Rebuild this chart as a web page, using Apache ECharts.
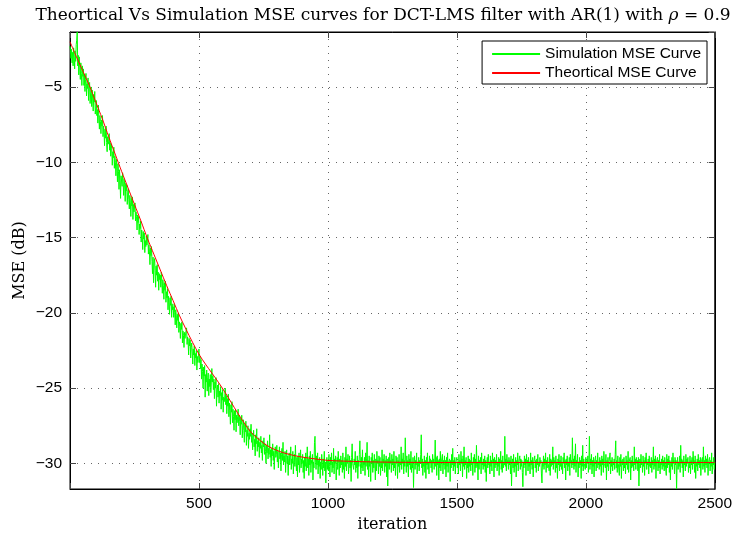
<!DOCTYPE html>
<html><head><meta charset="utf-8">
<script src="https://cdn.jsdelivr.net/npm/echarts@6/dist/echarts.min.js"></script>
<style>html,body{margin:0;padding:0;background:#fff}#c{width:735px;height:538px}</style>
</head><body><div id="c"></div>
<script>
// ---- data ----
const simStep = 2; // simulation samples every 2 iterations, starting at 0
const simMSE = [
-2.3,-2.6,-3.1,-2.5,-3.4,-2.7,-3.6,-2.4,-3.0,-3.8,-2.6,-3.3,-2.2,-1.9,-1.35,-3.6,-2.9,-4.2,-3.0,-3.7,-4.5,-3.4,-4.1,-4.9,-3.6,
-4.3,-3.8,-4.9,-4.2,-5.3,-4.5,-4.1,-5.6,-4.8,-5.1,-4.4,-5.9,-5.0,-4.7,-6.1,-5.4,-5.0,-6.3,-5.2,-5.8,-6.6,-5.5,-6.0,-5.3,-6.8,
-6.4,-5.9,-6.9,-6.5,-7.4,-6.2,-7.0,-7.8,-6.9,-7.3,-8.1,-7.2,-7.6,-6.9,-8.3,-7.6,-8.0,-8.9,-7.8,-8.4,-7.6,-8.7,-9.3,-8.3,-8.8,
-8.6,-8.1,-9.2,-8.7,-9.6,-8.8,-9.1,-10.2,-9.3,-9.7,-9.0,-10.4,-9.6,-10.0,-10.9,-9.8,-10.3,-11.3,-10.1,-10.6,-11.8,-10.5,-11.2,-12.4,-10.9,
-11.0,-11.6,-10.7,-11.3,-12.2,-11.1,-11.5,-12.6,-11.4,-11.9,-11.5,-12.8,-12.0,-11.8,-12.5,-13.1,-12.2,-12.7,-13.6,-12.4,-12.9,-12.3,-13.8,-12.8,-13.3,
-13.2,-12.7,-13.9,-13.3,-13.6,-14.5,-13.5,-14.0,-13.6,-14.8,-14.1,-14.4,-13.9,-15.3,-14.5,-14.9,-15.8,-14.6,-15.1,-14.7,-16.0,-15.2,-15.6,-14.9,-15.5,
-15.4,-14.8,-16.1,-15.5,-15.9,-16.8,-15.7,-16.2,-15.6,-16.6,-17.4,-16.3,-18.0,-16.7,-16.4,-17.2,-18.3,-16.9,-17.5,-16.8,-17.9,-17.3,-18.5,-17.4,-17.8,
-17.5,-18.3,-17.3,-17.9,-18.7,-17.8,-18.2,-19.1,-18.0,-18.5,-17.9,-19.3,-18.6,-19.0,-18.4,-19.8,-18.9,-19.3,-20.1,-19.0,-19.5,-18.9,-20.3,-19.4,-19.8,
-19.6,-20.3,-19.4,-20.0,-20.8,-19.8,-20.2,-21.0,-20.1,-20.5,-20.0,-21.3,-20.6,-20.9,-21.7,-20.7,-21.1,-20.6,-22.0,-21.2,-21.5,-22.3,-21.3,-21.7,-21.4,
-21.5,-21.0,-22.1,-21.6,-21.9,-22.8,-21.7,-22.2,-21.8,-23.0,-22.3,-22.0,-22.6,-23.4,-22.4,-22.8,-22.2,-23.5,-22.7,-23.0,-22.5,-23.8,-22.9,-23.3,-22.8,
-22.4,-23.3,-22.9,-23.7,-23.1,-24.4,-23.4,-23.9,-25.0,-23.6,-24.2,-23.5,-25.6,-24.1,-24.6,-23.8,-25.2,-24.3,-24.0,-25.5,-24.4,-24.9,-24.1,-25.3,-24.6,
-23.7,-24.6,-24.2,-25.1,-24.4,-25.7,-24.6,-25.0,-24.3,-26.2,-25.1,-24.8,-25.6,-24.7,-26.0,-25.2,-25.5,-24.9,-26.4,-25.3,-25.8,-25.1,-26.6,-25.6,-25.9,
-25.6,-25.0,-26.1,-25.5,-26.7,-25.7,-26.2,-25.4,-26.9,-26.0,-26.5,-27.4,-26.1,-26.6,-25.9,-27.3,-26.4,-26.9,-27.8,-26.5,-27.1,-26.4,-27.9,-26.8,-27.3,
-26.9,-26.4,-27.5,-26.8,-27.2,-28.1,-27.0,-27.4,-26.8,-28.3,-27.5,-27.1,-27.8,-28.6,-27.4,-27.9,-27.2,-28.8,-27.8,-28.2,-27.5,-29.0,-28.0,-28.4,-27.7,
-28.2,-27.4,-28.6,-28.0,-29.1,-28.3,-27.8,-28.9,-28.4,-29.5,-28.1,-28.7,-27.7,-29.2,-28.5,-28.9,-28.3,-29.6,-28.6,-29.0,-28.2,-29.3,-28.8,-29.8,-28.5,
-28.9,-28.3,-29.4,-28.7,-29.2,-30.0,-28.8,-29.3,-28.5,-29.7,-29.0,-29.4,-28.1,-29.6,-29.1,-30.2,-29.0,-29.5,-28.7,-29.8,-29.2,-30.4,-29.3,-28.9,-29.6,
-29.4,-28.8,-29.9,-29.2,-30.3,-29.5,-28.9,-29.7,-29.3,-30.5,-29.4,-29.0,-29.8,-28.6,-30.1,-29.5,-29.9,-29.2,-30.6,-29.6,-29.1,-30.0,-29.5,-30.8,-29.7,
-29.3,-30.1,-29.6,-28.9,-30.4,-29.7,-30.0,-29.2,-30.7,-29.8,-29.4,-30.2,-28.8,-29.9,-30.5,-29.6,-30.9,-29.5,-30.1,-29.3,-30.6,-29.8,-29.1,-30.3,-29.7,
-30.0,-29.4,-30.6,-29.8,-31.0,-29.6,-30.2,-29.3,-30.5,-29.9,-28.9,-30.3,-29.7,-30.8,-29.5,-30.1,-29.2,-30.6,-29.8,-30.0,-29.4,-31.1,-29.9,-30.3,-28.6,
-28.2,-29.7,-30.4,-29.5,-30.1,-29.3,-30.7,-29.8,-30.2,-29.6,-31.0,-29.9,-30.4,-29.4,-30.0,-30.8,-29.7,-30.3,-29.2,-30.5,-29.9,-31.3,-30.1,-29.6,-30.4,
-29.8,-30.5,-29.4,-30.2,-30.9,-29.6,-30.1,-29.3,-30.6,-29.9,-30.3,-29.0,-30.7,-29.7,-30.0,-29.5,-31.1,-30.2,-29.6,-30.4,-29.2,-30.0,-30.8,-29.7,-30.3,
-29.5,-30.1,-29.8,-30.6,-29.3,-30.4,-29.9,-31.0,-29.6,-30.2,-28.9,-30.5,-29.7,-30.0,-29.4,-30.7,-30.1,-29.5,-30.3,-29.8,-31.2,-29.6,-28.7,-30.0,-29.9,
-30.4,-29.7,-30.1,-29.2,-30.6,-29.9,-30.3,-29.5,-31.0,-29.8,-30.2,-29.4,-28.5,-30.0,-30.7,-29.6,-30.3,-29.1,-30.5,-29.9,-30.1,-29.6,-30.8,-29.3,-30.2,
-29.7,-28.6,-30.4,-29.8,-30.9,-29.5,-30.2,-29.9,-31.2,-29.6,-30.0,-29.3,-30.6,-29.8,-30.3,-29.4,-30.1,-31.1,-29.7,-30.5,-29.2,-30.0,-29.8,-30.7,-29.5,
-30.2,-29.6,-30.8,-29.9,-30.3,-29.1,-30.5,-29.7,-30.0,-29.4,-30.6,-29.8,-30.2,-29.5,-30.9,-29.7,-31.5,-30.1,-29.6,-30.4,-29.3,-30.0,-29.8,-30.6,-29.4,
-30.1,-29.7,-30.5,-29.2,-30.3,-29.9,-30.8,-29.5,-30.0,-29.6,-31.0,-29.8,-30.2,-29.4,-30.6,-29.9,-30.1,-28.9,-30.4,-29.7,-30.0,-29.3,-30.7,-29.8,-30.2,
-28.3,-29.9,-30.6,-29.5,-30.2,-29.8,-30.9,-29.4,-30.1,-29.7,-30.4,-29.2,-30.6,-29.9,-30.3,-29.6,-31.6,-30.0,-29.5,-30.4,-29.8,-30.1,-29.3,-30.7,-29.9,
-30.2,-29.6,-30.5,-29.8,-30.0,-29.4,-28.1,-30.3,-29.7,-30.8,-29.9,-30.2,-29.5,-30.6,-29.8,-31.0,-29.6,-30.1,-29.3,-30.4,-29.9,-30.7,-29.5,-30.0,-29.7,
-30.3,-29.8,-30.6,-29.4,-30.0,-29.7,-30.4,-29.9,-28.45,-30.2,-29.6,-30.8,-29.5,-30.1,-29.8,-31.1,-29.7,-30.3,-29.2,-30.5,-29.9,-30.0,-29.4,-30.7,-29.8,
-30.1,-29.5,-30.4,-29.8,-30.9,-29.6,-30.2,-29.3,-30.6,-29.9,-30.0,-29.7,-31.2,-29.8,-30.3,-29.4,-30.1,-29.0,-30.5,-29.8,-30.2,-29.6,-30.7,-29.9,-30.0,
-29.6,-30.3,-29.9,-30.7,-29.4,-30.1,-29.8,-30.5,-29.2,-30.0,-29.7,-30.9,-29.5,-30.2,-28.9,-30.4,-29.8,-30.1,-29.6,-31.0,-29.9,-30.3,-29.5,-30.6,-29.7,
-30.2,-29.8,-30.5,-29.3,-30.1,-29.9,-30.8,-29.6,-30.0,-29.4,-30.6,-29.7,-30.3,-28.8,-30.2,-29.9,-31.1,-29.5,-30.4,-29.8,-30.0,-29.6,-30.7,-29.3,-30.1,
-29.9,-30.4,-29.7,-30.2,-29.5,-30.6,-29.8,-31.2,-30.0,-29.6,-30.3,-29.4,-30.1,-29.9,-30.7,-29.5,-30.2,-29.8,-30.5,-29.3,-30.0,-29.7,-30.9,-29.6,-30.3,
-29.8,-30.1,-29.4,-30.5,-29.9,-30.2,-29.6,-30.8,-29.7,-30.0,-29.2,-30.4,-29.8,-30.6,-29.5,-30.3,-29.9,-30.1,-28.2,-30.2,-29.7,-30.5,-29.4,-30.0,-29.8,
-30.4,-29.6,-30.1,-29.8,-30.7,-29.5,-31.5,-30.0,-29.7,-30.3,-29.4,-30.6,-29.9,-30.2,-29.6,-30.9,-29.8,-30.1,-29.3,-30.5,-29.9,-30.0,-29.5,-30.4,-29.7,
-30.2,-29.8,-30.6,-31.55,-29.9,-30.3,-29.5,-30.1,-29.7,-30.8,-29.4,-30.0,-29.8,-30.5,-29.6,-30.2,-29.9,-30.7,-29.3,-30.1,-29.8,-30.4,-29.6,-30.9,-29.9,
-30.0,-29.5,-30.3,-29.8,-30.6,-29.7,-30.1,-29.4,-30.5,-29.9,-30.2,-29.6,-30.0,-29.8,-30.7,-31.3,-29.9,-30.2,-29.5,-30.4,-29.7,-30.1,-29.3,-30.6,-29.8,
-30.3,-29.6,-30.0,-29.9,-30.5,-29.4,-30.8,-29.7,-30.2,-29.8,-30.1,-28.9,-30.4,-29.6,-30.0,-29.8,-30.6,-29.5,-30.3,-29.9,-31.0,-29.7,-30.1,-29.4,-30.5,
-29.8,-30.2,-29.5,-30.4,-29.9,-30.7,-29.6,-30.0,-29.3,-30.3,-29.8,-31.1,-29.7,-30.1,-29.5,-30.5,-29.9,-30.2,-29.6,-30.8,-29.4,-30.0,-29.8,-30.3,-28.3,
-30.1,-29.7,-30.4,-29.5,-30.2,-28.7,-30.6,-29.8,-30.0,-29.4,-30.9,-29.9,-30.3,-29.6,-30.1,-29.8,-31.0,-29.5,-30.2,-28.8,-30.5,-29.7,-30.0,-29.9,-30.4,
-29.6,-30.3,-29.8,-30.0,-29.5,-30.6,-29.9,-28.2,-30.4,-29.7,-30.1,-29.4,-30.7,-29.8,-30.2,-29.6,-30.9,-29.9,-30.0,-29.5,-30.5,-29.8,-30.3,-29.3,-30.1,
-29.9,-30.4,-29.6,-30.2,-29.8,-30.8,-29.5,-30.1,-29.7,-30.6,-29.2,-30.0,-29.9,-30.3,-29.4,-31.1,-29.8,-30.2,-29.6,-30.5,-29.9,-30.0,-29.3,-30.7,-29.8,
-30.2,-29.6,-30.5,-29.9,-30.1,-29.7,-30.4,-29.4,-28.5,-30.3,-29.8,-30.6,-29.5,-30.0,-29.9,-30.8,-29.6,-30.2,-29.4,-31.0,-29.8,-30.1,-29.7,-30.5,-29.6,
-30.3,-29.9,-30.7,-29.5,-30.1,-29.8,-30.4,-29.2,-30.6,-29.9,-30.0,-29.6,-31.1,-29.8,-30.3,-29.5,-30.2,-29.9,-30.5,-28.9,-30.1,-29.7,-30.4,-29.6,-30.0,
-29.8,-30.5,-29.6,-31.5,-30.0,-29.7,-30.3,-29.4,-30.1,-29.9,-30.6,-29.5,-30.2,-29.8,-30.8,-29.6,-30.0,-29.3,-30.4,-29.9,-30.1,-29.7,-30.7,-29.5,-30.2,
-29.9,-30.3,-29.6,-30.6,-29.8,-30.1,-28.9,-30.4,-29.7,-30.2,-29.5,-31.0,-29.9,-30.0,-29.6,-30.5,-29.8,-30.3,-29.4,-30.7,-29.9,-30.1,-29.7,-30.4,-29.5,
-30.2,-29.8,-30.5,-29.6,-30.0,-29.9,-30.8,-29.4,-30.3,-29.7,-30.1,-29.5,-30.6,-29.8,-31.1,-29.9,-30.2,-29.6,-30.4,-29.3,-30.0,-29.8,-30.7,-29.6,-30.1,
-29.8,-31.7,-30.1,-29.6,-30.4,-29.9,-30.2,-29.5,-30.6,-28.8,-30.0,-29.7,-30.3,-29.8,-30.9,-29.5,-30.1,-29.9,-30.5,-29.4,-30.2,-29.7,-30.0,-29.6,-30.6,
-29.9,-30.3,-29.5,-30.7,-29.8,-30.1,-29.6,-30.4,-29.2,-30.0,-29.8,-30.6,-29.5,-31.0,-29.9,-30.2,-29.7,-30.5,-29.4,-30.1,-29.8,-30.3,-29.6,-30.8,-29.9,
-30.0,-29.6,-30.4,-28.9,-30.2,-29.8,-30.6,-29.5,-30.1,-29.7,-30.3,-29.4,-30.8,-29.9,-30.0,-29.6,-30.5,-29.8,-30.2,-29.3,-30.7,-29.9,-30.1,-29.6,-30.4,
-29.9
];
const theoryIter = [0,25,50,75,100,125,150,175,200,225,250,275,300,325,350,375,400,425,450,475,500,525,550,575,600,625,650,675,700,725,750,775,800,825,850,875,900,950,1000,1100,1200,1300,1500,2000,2500];
const theoryMSE = [-2.0,-3.0,-3.95,-4.9,-6.0,-7.1,-8.3,-9.45,-10.6,-11.7,-12.8,-13.9,-15.05,-16.1,-17.15,-18.2,-19.2,-20.2,-21.1,-21.95,-22.75,-23.4,-24.0,-24.6,-25.25,-25.95,-26.65,-27.3,-27.9,-28.3,-28.65,-28.92,-29.12,-29.28,-29.4,-29.5,-29.58,-29.7,-29.8,-29.87,-29.91,-29.93,-29.94,-29.94,-29.94];
const xTickValues = [500,1000,1500,2000,2500];
const yTickValues = [-30,-25,-20,-15,-10,-5];
const seriesNames = ['Simulation MSE Curve','Theortical MSE Curve'];

const simData = simMSE.map((v,i)=>[i*simStep, v]);
const theoryData = theoryIter.map((x,i)=>[x, theoryMSE[i]]);

const fmtNum = v => (v < 0 ? '\u2212' + Math.abs(v) : String(v));
const sans = 'Liberation Sans';
const serif = 'DejaVu Serif';

const chart = echarts.init(document.getElementById('c'), null, {renderer:'canvas'});
const tickStyle = {inside:true, length:6, lineStyle:{color:'#444', width:1}};
const gridLine = {show:true, lineStyle:{color:'#666', width:1, type:[1,6]}};
chart.setOption({
  animation:false,
  backgroundColor:'#fff',
  title:{
    text:'Theortical Vs Simulation MSE curves for DCT-LMS filter with AR(1) with {i|ρ} = 0.9',
    left:378, top:2, textAlign:'center',
    textStyle:{fontFamily:serif, fontSize:17, fontWeight:'normal', color:'#000',
      rich:{i:{fontFamily:serif, fontSize:17, fontStyle:'italic', color:'#000'}}}
  },
  grid:{left:70, right:20, top:32, bottom:49, show:true, borderColor:'#000', borderWidth:1, backgroundColor:'transparent'},
  legend:{
    data:seriesNames, orient:'vertical', right:28, top:41,
    itemWidth:48, itemHeight:14, itemGap:3, padding:[5,6,3,9],
    itemStyle:{opacity:0},
    backgroundColor:'#fff', borderColor:'#000', borderWidth:1, borderRadius:0,
    textStyle:{fontFamily:sans, fontSize:15.5, color:'#000'}
  },
  xAxis:[{
    type:'value', min:0, max:2500, splitNumber:5,
    name:'iteration', nameLocation:'middle', nameGap:27,
    nameTextStyle:{fontFamily:serif, fontSize:16, color:'#000'},
    axisLine:{show:true, onZero:false, lineStyle:{color:'#000', width:1}},
    axisTick:tickStyle,
    axisLabel:{margin:7, fontFamily:sans, fontSize:15.5, color:'#000',
      formatter:v => xTickValues.includes(v) ? fmtNum(v) : ''},
    splitLine:gridLine
  },{
    type:'value', min:0, max:2500, splitNumber:5, position:'top',
    axisLine:{show:true, onZero:false, lineStyle:{color:'#000', width:1}},
    axisTick:tickStyle, axisLabel:{show:false}, splitLine:{show:false}
  }],
  yAxis:[{
    type:'value', min:-31.7, max:-1.35, splitNumber:6,
    name:'MSE (dB)', nameLocation:'middle', nameGap:42, nameRotate:90, nameMoveOverlap:false,
    nameTextStyle:{fontFamily:serif, fontSize:16, color:'#000'},
    axisLine:{show:true, onZero:false, lineStyle:{color:'#000', width:1}},
    axisTick:tickStyle,
    axisLabel:{margin:8, fontFamily:sans, fontSize:15.5, color:'#000', showMinLabel:false, showMaxLabel:false,
      formatter:v => yTickValues.includes(Math.round(v*100)/100) ? fmtNum(v) : ''},
    splitLine:gridLine
  },{
    type:'value', min:-31.7, max:-1.35, splitNumber:6, position:'right',
    axisLine:{show:true, onZero:false, lineStyle:{color:'#000', width:1}},
    axisTick:tickStyle, axisLabel:{show:false}, splitLine:{show:false}
  }],
  series:[{
    name:seriesNames[0], type:'line', data:simData, xAxisIndex:0, yAxisIndex:0,
    symbol:'none', showSymbol:false, silent:true, large:false, progressive:0,
    lineStyle:{color:'#00ff00', width:1}, itemStyle:{color:'#00ff00'}
  },{
    name:seriesNames[1], type:'line', data:theoryData, xAxisIndex:0, yAxisIndex:0,
    symbol:'none', showSymbol:false, silent:true, smooth:0.3,
    lineStyle:{color:'#ff0000', width:1}, itemStyle:{color:'#ff0000'}
  }]
});
</script>
</body></html>
